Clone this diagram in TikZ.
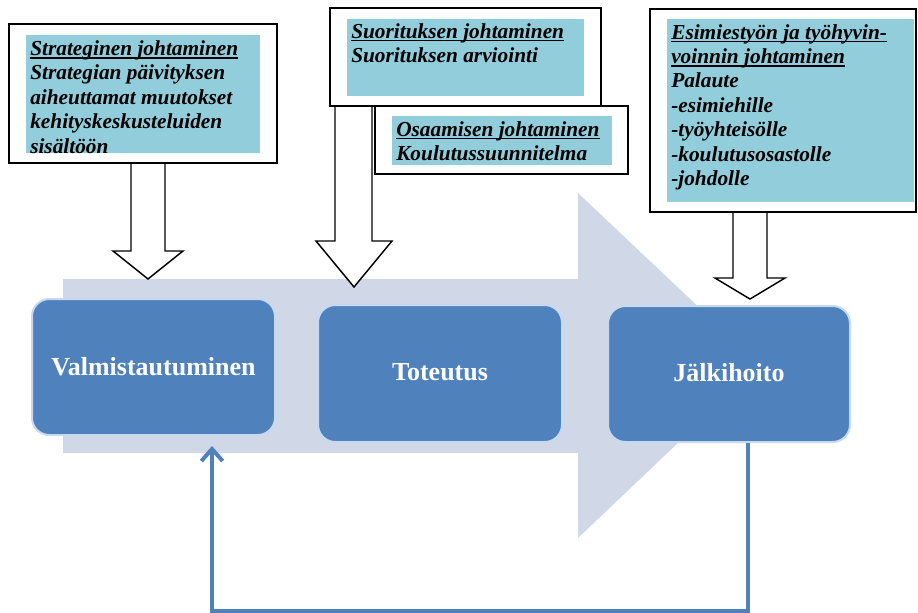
\documentclass[tikz,border=0pt]{standalone}
\usepackage{fontspec}
\setmainfont{Liberation Serif}
\usetikzlibrary{arrows.meta,calc,fit}
\definecolor{bigarrow}{HTML}{D0D8E8}
\definecolor{stepblue}{HTML}{4F81BD}
\definecolor{stepedge}{HTML}{C6D9F1}
\definecolor{aqua}{HTML}{92CDDC}
\newcommand\myul[1]{\setbox0\hbox{#1}\rlap{\rule[-2.4pt]{\wd0}{1.1pt}}\box0}
\tikzset{
  outerbox/.style={draw=black, line width=1.3pt, fill=white, inner sep=0pt},
  aquabox/.style={fill=aqua, inner sep=0pt},
  boxtext/.style={anchor=north west, inner sep=0pt, align=left,
    font={\fontsize{16}{18.3}\selectfont\bfseries\itshape}},
  hollow/.style={draw=black, line width=1.1pt, fill=white, line join=miter},
  stepbox/.style={fill=stepblue, draw=stepedge, line width=1.5pt, rounded corners=13pt, inner sep=0pt},
  steplabel/.style={text=white, font={\fontsize{19.5}{22}\selectfont\bfseries}, inner sep=0pt},
  fbline/.style={draw=stepblue, line width=3pt, -{Straight Barb[length=9pt,width=16pt]}}
}
\begin{document}
\begin{tikzpicture}[x=0.75pt,y=-0.75pt]
\useasboundingbox (0,0) rectangle (918,612);
% big background arrow
\fill[bigarrow] (63,279) -- (578,279) -- (578,193) -- (760,365) -- (578,538) -- (578,453) -- (63,453) -- cycle;
% hollow block arrows
\draw[hollow] (131,150) -- (131,251) -- (113,251) -- (148,279) -- (183,251) -- (165,251) -- (165,150);
\draw[hollow] (335,100) -- (335,241) -- (316,241) -- (354,287) -- (392,241) -- (372,241) -- (372,100);
\draw[hollow] (733,200) -- (733,278) -- (715,278) -- (750,299) -- (785,278) -- (767,278) -- (767,200);
% text boxes
\node[outerbox, fit={(9,24) (277,163)}] (b1) {};
\node[aquabox, fit={(26,35) (260,153)}] (a1) {};
\node[boxtext] (t1) at (30,40.5) {\myul{Strateginen johtaminen}\\Strategian päivityksen\\aiheuttamat muutokset\\kehityskeskusteluiden\\sisältöön};
\node[outerbox, fit={(330,8) (601,106)}] (b2) {};
\node[aquabox, fit={(347,19) (584,96)}] (a2) {};
\node[boxtext] (t2) at (351,23) {\myul{Suorituksen johtaminen}\\Suorituksen arviointi};
\node[outerbox, fit={(375,106) (628,174)}] (b3) {};
\node[aquabox, fit={(392,116) (612,165)}] (a3) {};
\node[boxtext] (t3) at (396,121) {\myul{Osaamisen johtaminen}\\Koulutussuunnitelma};
\node[outerbox, fit={(650,9) (916,212)}] (b4) {};
\node[aquabox, fit={(667,19) (914,202)}] (a4) {};
\node[boxtext] (t4) at (671,24) {\myul{Esimiestyön ja työhyvin-}\\\myul{voinnin johtaminen}\\Palaute\\-esimiehille\\-työyhteisölle\\-koulutusosastolle\\-johdolle};
% step boxes
\node[stepbox, fit={(32,299) (275,435)}] (valm) {};
\node[stepbox, fit={(318,305) (562,442)}] (tot) {};
\node[stepbox, fit={(608,306) (850,442)}] (jal) {};
\node[steplabel] (lv) at (valm.center) {Valmistautuminen};
\node[steplabel] (lt) at ($(tot.center)+(0,-1)$) {Toteutus};
\node[steplabel] (lj) at ($(jal.center)+(0,-1)$) {Jälkihoito};
% feedback loop
\draw[fbline] ($(jal.south)+(19,0)$) -- ($(jal.south)+(19,168)$) -| ($(valm.south)+(58.5,10)$);
\end{tikzpicture}
\end{document}
